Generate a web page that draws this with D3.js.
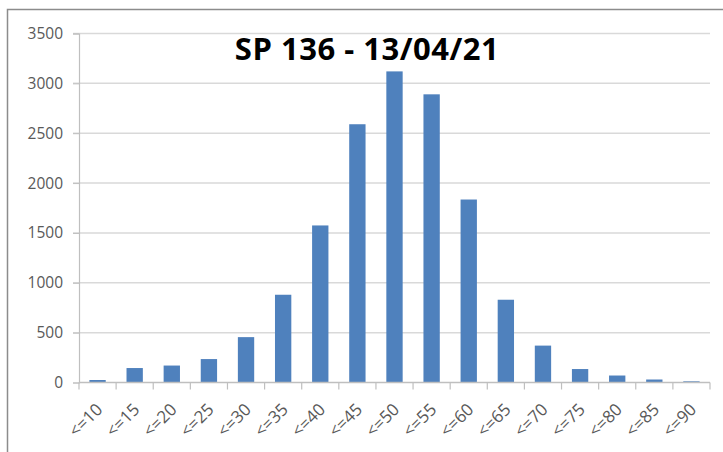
<!DOCTYPE html>
<html>
<head>
<meta charset="utf-8">
<script src="https://cdn.jsdelivr.net/npm/d3@7"></script>
<style>
  body { margin: 0; background: #fff; }
</style>
</head>
<body>
<div id="plot"></div>
<script>
// Data
const categories = ["<=10", "<=15", "<=20", "<=25", "<=30", "<=35", "<=40", "<=45", "<=50",
  "<=55", "<=60", "<=65", "<=70", "<=75", "<=80", "<=85", "<=90"];
const counts = [25, 145, 170, 235, 455, 880, 1575, 2590, 3120, 2890, 1835, 830, 370, 135, 70, 30, 12];
const yTicks = [0, 500, 1000, 1500, 2000, 2500, 3000, 3500];
const title = "SP 136 - 13/04/21";

// Parameters
const svg_w = 723;
const svg_h = 452;
const margin = {top: 33.5, right: 13, bottom: 69.5, left: 79};
const innerWidth = svg_w - margin.left - margin.right;
const innerHeight = svg_h - margin.top - margin.bottom;
const labelFont = "'Open Sans', sans-serif";

const svg = d3.select("div#plot")
  .append("svg")
    .attr("width", svg_w)
    .attr("height", svg_h);

svg.append("rect")
    .attr("width", svg_w)
    .attr("height", svg_h)
    .attr("fill", "white");

// Frame (only top and left edges visible)
svg.append("path")
    .attr("d", `M7.5,${svg_h} L7.5,9.5 L${svg_w},9.5`)
    .attr("fill", "none")
    .attr("stroke", "#8c8c8c")
    .attr("stroke-width", 1.5);

const xScale = d3.scaleBand().domain(categories).range([0, innerWidth]).paddingInner(0.56).paddingOuter(0.28);
const yScale = d3.scaleLinear().domain([0, 3500]).range([innerHeight, 0]);

const g = svg.append("g")
    .attr("transform", `translate(${margin.left}, ${margin.top})`);

// Gridlines
g.append("g")
    .selectAll("line")
    .data(yTicks.filter(d => d > 0))
    .join("line")
      .attr("x1", -6)
      .attr("x2", innerWidth)
      .attr("y1", d => yScale(d))
      .attr("y2", d => yScale(d))
      .attr("stroke", "#d9d9d9")
      .attr("stroke-width", 1.5);

// Bars
g.append("g")
    .selectAll("rect")
    .data(counts)
    .join("rect")
      .attr("x", (d, i) => xScale(categories[i]))
      .attr("y", d => yScale(d))
      .attr("width", xScale.bandwidth())
      .attr("height", d => yScale(0) - yScale(d))
      .attr("fill", "#4f81bd");

// Y axis
const yAxis = d3.axisLeft(yScale).tickValues(yTicks).tickFormat(d3.format("d")).tickSize(6).tickPadding(10);
const yG = g.append("g").call(yAxis);
yG.select(".domain").attr("stroke", "#bfbfbf").attr("stroke-width", 1.2);
yG.selectAll(".tick line").attr("stroke", "#bfbfbf");
yG.selectAll("text")
    .style("font-family", labelFont)
    .style("font-size", "15.5px")
    .attr("fill", "#595959");

// X axis with ticks at category boundaries
g.append("line")
    .attr("x1", 0).attr("x2", innerWidth)
    .attr("y1", innerHeight).attr("y2", innerHeight)
    .attr("stroke", "#bfbfbf")
    .attr("stroke-width", 1.5);

const step = xScale.step();
g.append("g")
    .selectAll("line")
    .data(d3.range(categories.length + 1))
    .join("line")
      .attr("x1", i => i * step)
      .attr("x2", i => i * step)
      .attr("y1", innerHeight)
      .attr("y2", innerHeight + 7)
      .attr("stroke", "#bfbfbf")
      .attr("stroke-width", 1.2);

g.append("g")
    .selectAll("text")
    .data(categories)
    .join("text")
      .attr("text-anchor", "end")
      .attr("transform", d => `translate(${xScale(d) + xScale.bandwidth() / 2 + 6}, ${innerHeight + 28}) rotate(-45)`)
      .style("font-family", labelFont)
      .style("font-size", "17px")
      .attr("fill", "#595959")
      .text(d => d);

// Title
svg.append("text")
    .attr("x", 367)
    .attr("y", 60)
    .attr("text-anchor", "middle")
    .style("font-family", labelFont)
    .style("font-size", "31px")
    .style("font-weight", "bold")
    .style("letter-spacing", "0.5px")
    .attr("fill", "#000")
    .text(title);
</script>
</body>
</html>
